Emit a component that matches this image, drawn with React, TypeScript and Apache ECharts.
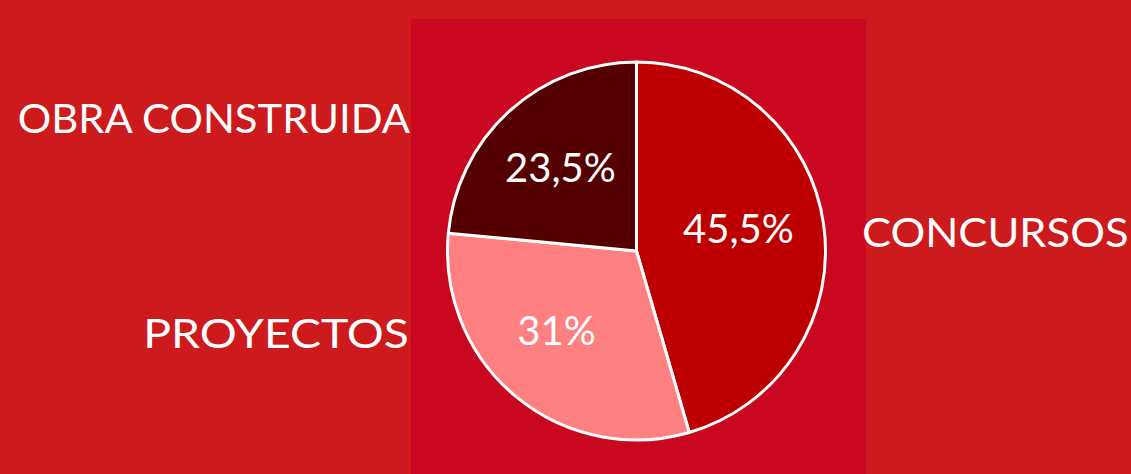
import React, { useEffect, useRef } from "react";
import * as echarts from "echarts";

const categories = ["CONCURSOS", "PROYECTOS", "OBRA CONSTRUIDA"];
const values = [45.5, 31, 23.5];
const colors = ["#BC0000", "#FF8080", "#550000"];
const labelOffsets = [[-10, -7], [-8, -8], [0, 0]];

export default function App() {
  const ref = useRef<HTMLDivElement>(null);
  useEffect(() => {
    document.body.style.margin = "0";
    const chart = echarts.init(ref.current!, undefined, { renderer: "svg" });
    const data = categories.map((name, i) => ({
      name,
      value: values[i],
      itemStyle: { color: colors[i] },
    }));
    const fmt = (p: any) => String(p.value).replace(".", ",") + "%";
    const outerFont = "Lato, 'DejaVu Sans', sans-serif";
    const outerText = (text: string, x: number, y: number, align: string, sx: number) => ({
      type: "text",
      x,
      y,
      scaleX: sx,
      style: {
        text,
        fill: "#fff",
        font: `41px ${outerFont}`,
        textAlign: align,
        textVerticalAlign: "middle",
      },
    });
    chart.setOption({
      animation: false,
      backgroundColor: "#CD1A1C",
      graphic: [
        {
          type: "rect",
          z: -1,
          shape: { x: 411, y: 19, width: 455, height: 455 },
          style: { fill: "#C9081F" },
        },
        outerText(categories[2], 410, 117, "right", 1.02),
        outerText(categories[1], 409, 332, "right", 1.13),
        outerText(categories[0], 862, 231, "left", 1.06),
      ],
      series: [
        {
          type: "pie",
          center: [636.5, 251],
          radius: [0, 189],
          startAngle: 90,
          clockwise: true,
          silent: true,
          data,
          label: { show: false },
          labelLine: { show: false },
          itemStyle: { borderColor: "#ffffff", borderWidth: 3 },
        },
        {
          type: "pie",
          center: [636.5, 251],
          radius: [0, 220],
          startAngle: 90,
          clockwise: true,
          silent: true,
          z: 3,
          data: categories.map((name, i) => ({
            name,
            value: values[i],
            label: { offset: labelOffsets[i] },
          })),
          itemStyle: { color: "transparent", borderWidth: 0 },
          label: {
            show: true,
            position: "inside",
            formatter: fmt,
            color: "#ffffff",
            fontSize: 40,
            fontFamily: "Lato, sans-serif",
          },
          labelLine: { show: false },
        },
      ],
    });
    return () => chart.dispose();
  }, []);
  return <div ref={ref} style={{ width: 1131, height: 474 }} />;
}
